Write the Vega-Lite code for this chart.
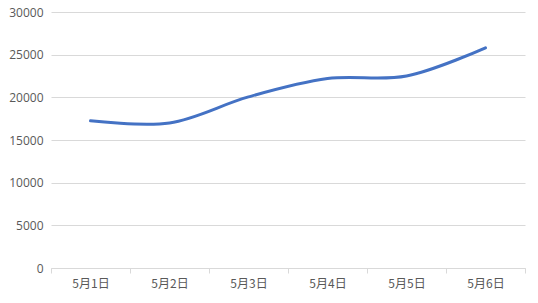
{
  "$schema": "https://vega.github.io/schema/vega-lite/v6.json",
  "width": 474,
  "height": 256,
  "autosize": {"type": "none"},
  "padding": {"left": 51, "top": 12, "right": 13, "bottom": 35},
  "background": "white",
  "config": {"view": {"stroke": null}},
  "data": {
    "values": [
      {"date": "5月1日", "value": 17250},
      {"date": "5月2日", "value": 17000},
      {"date": "5月3日", "value": 20050},
      {"date": "5月4日", "value": 22200},
      {"date": "5月5日", "value": 22500},
      {"date": "5月6日", "value": 25800}
    ]
  },
  "mark": {"type": "line", "interpolate": "catmull-rom", "color": "#4472C4", "strokeWidth": 3, "strokeCap": "round"},
  "encoding": {
    "x": {
      "field": "date",
      "type": "ordinal",
      "sort": null,
      "scale": {"type": "band", "paddingInner": 0, "paddingOuter": 0},
      "axis": {
        "title": null,
        "labelAngle": 0,
        "tickBand": "extent",
        "tickSize": 5,
        "tickColor": "#d9d9d9",
        "domainColor": "#d9d9d9",
        "labelPadding": 5,
        "labelFont": "Noto Sans CJK SC",
        "labelFontSize": 12,
        "labelColor": "#595959",
        "grid": false
      }
    },
    "y": {
      "field": "value",
      "type": "quantitative",
      "scale": {"domain": [0, 30000], "nice": false},
      "axis": {
        "title": null,
        "values": [0, 5000, 10000, 15000, 20000, 25000, 30000],
        "domain": false,
        "ticks": false,
        "tickSize": 0,
        "labelPadding": 8,
        "labelFont": "Open Sans",
        "labelFontSize": 12,
        "labelColor": "#595959",
        "gridColor": "#d9d9d9",
        "gridWidth": 1,
        "format": "d"
      }
    }
  }
}
